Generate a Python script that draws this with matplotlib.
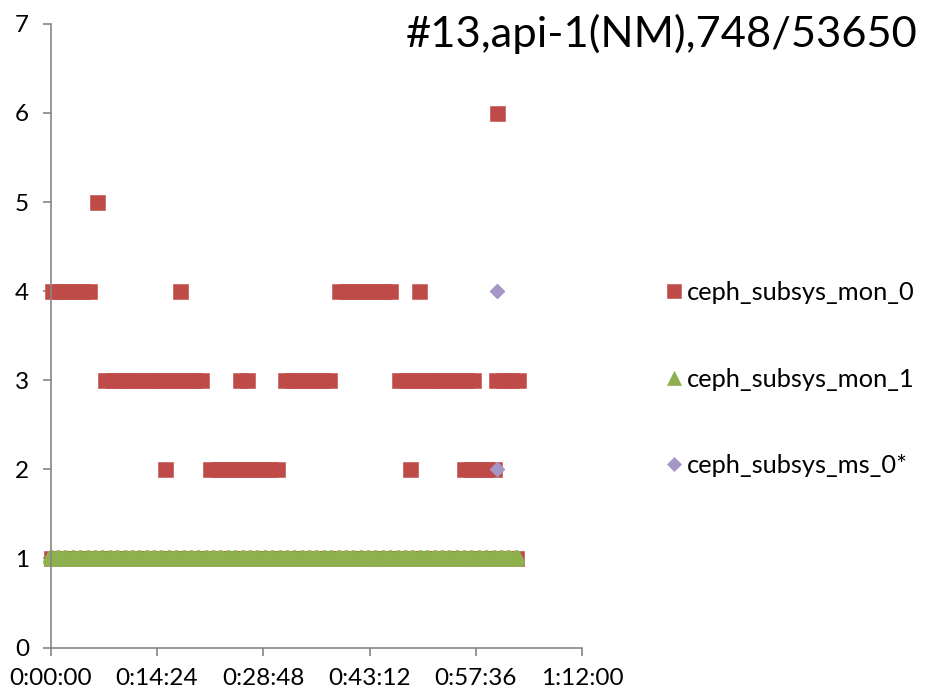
import matplotlib
matplotlib.use("Agg")
import matplotlib.pyplot as plt
from matplotlib.markers import MarkerStyle
from matplotlib.ticker import FixedLocator, FuncFormatter

plt.rcParams['font.family'] = ['Lato', 'DejaVu Sans']

# sample clock, minutes since start (one record per minute)
minutes = list(range(64))

# ceph_subsys_mon_0: minutes at which each level shows up
mon0_lvl1 = minutes
mon0_lvl2 = [15.5, 21.6, 22.6, 23.6, 24.6, 25.6, 26.6, 27.6, 28.6, 29.6, 30.6,
             48.7, 56.0, 57.0, 58.0, 59.0, 60.0]
mon0_lvl3 = [7.4, 8.4, 9.4, 10.4, 11.4, 12.4, 13.4, 14.4, 15.4, 16.4, 17.4,
             18.4, 19.4, 20.4, 25.7, 26.6,
             31.7, 32.7, 33.7, 34.7, 35.7, 36.7, 37.7,
             47.2, 48.2, 49.2, 50.2, 51.2, 52.2, 53.2, 54.2, 55.2, 56.2, 57.2,
             60.3, 61.3, 62.3, 63.3]
mon0_lvl4 = [0.2, 1.2, 2.2, 3.2, 4.2, 5.2, 17.5,
             39.0, 40.0, 41.0, 42.0, 43.0, 44.0, 45.0, 46.0, 49.9]
mon0_lvl5 = [6.3]
mon0_lvl6 = [60.5]

# ceph_subsys_mon_1: always 1
mon1_x = minutes
mon1_y = [1] * len(minutes)

# ceph_subsys_ms_0*
ms0_x = [60.4, 60.4]
ms0_y = [4, 2]

mon0_x = mon0_lvl1 + mon0_lvl2 + mon0_lvl3 + mon0_lvl4 + mon0_lvl5 + mon0_lvl6
mon0_y = ([1] * len(mon0_lvl1) + [2] * len(mon0_lvl2) + [3] * len(mon0_lvl3)
          + [4] * len(mon0_lvl4) + [5] * len(mon0_lvl5) + [6] * len(mon0_lvl6))

RED = '#BE4B48'
GREEN = '#8FB04F'
PURPLE = '#A497C6'
AXIS = '#868686'

fig = plt.figure(figsize=(9.27, 6.98), dpi=100)
ax = fig.add_axes([0.0547, 0.0723, 0.628 - 0.0547, 0.9659 - 0.0723])

ax.plot(mon0_x, mon0_y, ls='none', marker='s', ms=10.8, mfc=RED, mec=RED,
        mew=0.4, label='ceph_subsys_mon_0', clip_on=False)
# the green triangles overlap into one band; a thick round-joined edge
# closes the gaps between them
ax.plot(mon1_x, mon1_y, ls='none', marker=MarkerStyle('^', joinstyle='round'),
        ms=5.6, mfc=GREEN, mec=GREEN, mew=6.4, label='ceph_subsys_mon_1',
        clip_on=False)
ax.plot(ms0_x, ms0_y, ls='none', marker='D', ms=7.6, mfc=PURPLE, mec=PURPLE,
        label='ceph_subsys_ms_0*', clip_on=False)

ax.set_xlim(0, 72)
ax.set_ylim(0, 7)


def hms(v, pos):
    s = int(round(v * 60))
    return f"{s // 3600}:{(s % 3600) // 60:02d}:{s % 60:02d}"


ax.xaxis.set_major_locator(FixedLocator([0, 14.4, 28.8, 43.2, 57.6, 72]))
ax.xaxis.set_major_formatter(FuncFormatter(hms))
ax.set_yticks(range(8))

for side in ('top', 'right'):
    ax.spines[side].set_visible(False)
for side in ('left', 'bottom'):
    ax.spines[side].set_color(AXIS)
    ax.spines[side].set_linewidth(1.2)
ax.tick_params(colors=AXIS, width=1.2, length=5.5, labelcolor='black',
               labelsize=17.5)
ax.tick_params(axis='x', pad=9)
ax.tick_params(axis='y', pad=10)

fig.text(0.99, 1 - 47 / 698, '#13,api-1(NM),748/53650', ha='right',
         va='baseline', fontsize=31.3)

leg = ax.legend(loc='center left', bbox_to_anchor=(1.139, 0.4305),
                frameon=False, fontsize=18.3, handlelength=0.6,
                handletextpad=0.2, labelspacing=2.5, borderaxespad=0)
for h, size, ew in zip(leg.legend_handles, (9.5, 10, 7), (0.4, 0.5, 0.5)):
    h.set_markersize(size)
    h.set_markeredgewidth(ew)

fig.savefig('out.png', dpi=100)
